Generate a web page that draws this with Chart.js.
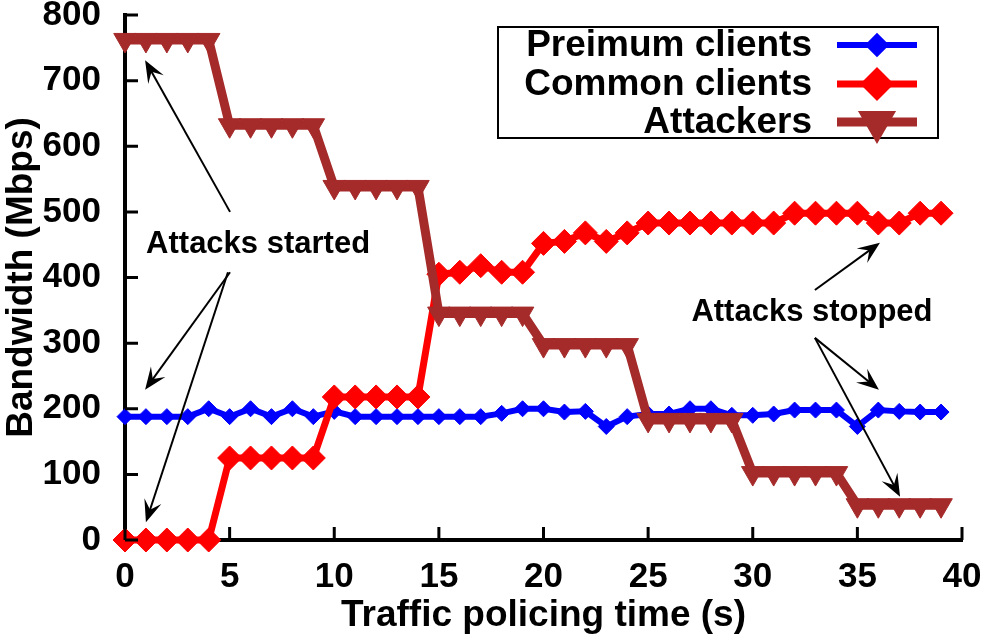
<!DOCTYPE html>
<html>
<head>
<meta charset="utf-8">
<title>Bandwidth vs traffic policing time</title>
<script src="https://cdn.jsdelivr.net/npm/chart.js@4.4.1/dist/chart.umd.min.js"></script>
<style>
  html, body { margin: 0; padding: 0; background: #fff; }
  #wrap { width: 988px; height: 638px; }
</style>
</head>
<body>
<div id="wrap"><canvas id="my-chart" width="988" height="638"></canvas></div>
<script>
'use strict';

// Data
let times = [0, 1, 2, 3, 4, 5, 6, 7, 8, 9, 10, 11, 12, 13, 14, 15, 16, 17, 18, 19,
  20, 21, 22, 23, 24, 25, 26, 27, 28, 29, 30, 31, 32, 33, 34, 35, 36, 37, 38, 39];

let premiumClients = [188, 188, 188, 188, 200, 188, 200, 188, 200, 188,
  196, 188, 188, 188, 188, 188, 188, 188, 193, 200,
  200, 195, 196, 173, 188, 192, 192, 200, 200, 190,
  190, 192, 198, 198, 198, 173, 198, 196, 195, 195];

let commonClients = [0, 0, 0, 0, 0, 125, 125, 125, 125, 125,
  218, 218, 218, 218, 218, 405, 408, 418, 408, 408,
  452, 455, 468, 455, 468, 483, 483, 483, 483, 483,
  483, 483, 498, 498, 498, 498, 483, 483, 498, 498];

let attackers = [762, 762, 762, 762, 762, 632, 632, 632, 632, 632,
  538, 538, 538, 538, 538, 345, 345, 345, 345, 345,
  297, 297, 297, 297, 297, 183, 183, 183, 183, 183,
  102, 102, 102, 102, 102, 53, 53, 53, 53, 53];

let xTicks = [0, 5, 10, 15, 20, 25, 30, 35, 40];
let yTicks = [0, 100, 200, 300, 400, 500, 600, 700, 800];

// annotation labels and arrows, in data units
let notes = [
  { text: 'Attacks started', x: 6.36, y: 450 },
  { text: 'Attacks stopped', x: 32.83, y: 347 }
];
let arrows = [
  [5.02, 500, 0.96, 731],
  [5.02, 408, 0.96, 229],
  [4.92, 408, 1.0, 27],
  [32.97, 381, 36.08, 453],
  [32.97, 308, 36.03, 229],
  [32.97, 308, 37.04, 66]
];

function toPoints(vals) {
  let pts = [];
  for (let i = 0; i < times.length; i++) {
    pts.push({ x: times[i], y: vals[i] });
  }
  return pts;
}

let font = 'Liberation Sans, Arial, Helvetica, sans-serif';

// Plugins

// gnuplot style ticks pointing into the plot
let innerTicks = {
  id: 'innerTicks',
  afterDraw(chart) {
    let ctx = chart.ctx;
    let area = chart.chartArea;
    let xs = chart.scales.x;
    let ys = chart.scales.y;
    ctx.save();
    ctx.strokeStyle = '#000';
    ctx.lineWidth = 3;
    ctx.beginPath();
    for (let i = 0; i < yTicks.length; i++) {
      let py = ys.getPixelForValue(yTicks[i]);
      ctx.moveTo(area.left, py);
      ctx.lineTo(area.left + 13, py);
    }
    for (let i = 0; i < xTicks.length; i++) {
      let px = xs.getPixelForValue(xTicks[i]);
      ctx.moveTo(px, area.bottom);
      ctx.lineTo(px, area.bottom - 13);
    }
    ctx.stroke();
    ctx.restore();
  }
};

function drawArrow(ctx, x1, y1, x2, y2) {
  let ang = Math.atan2(y2 - y1, x2 - x1);
  let len = 24;
  let spread = 0.38;
  ctx.beginPath();
  ctx.moveTo(x1, y1);
  ctx.lineTo(x2 - Math.cos(ang) * 10, y2 - Math.sin(ang) * 10);
  ctx.stroke();
  ctx.beginPath();
  ctx.moveTo(x2, y2);
  ctx.lineTo(x2 - Math.cos(ang - spread) * len, y2 - Math.sin(ang - spread) * len);
  ctx.lineTo(x2 - Math.cos(ang) * len * 0.55, y2 - Math.sin(ang) * len * 0.55);
  ctx.lineTo(x2 - Math.cos(ang + spread) * len, y2 - Math.sin(ang + spread) * len);
  ctx.closePath();
  ctx.fill();
}

let notesPlugin = {
  id: 'notesPlugin',
  afterDatasetsDraw(chart) {
    let ctx = chart.ctx;
    let xs = chart.scales.x;
    let ys = chart.scales.y;
    ctx.save();
    ctx.fillStyle = '#000';
    ctx.strokeStyle = '#000';
    ctx.lineWidth = 2;
    for (let i = 0; i < arrows.length; i++) {
      let a = arrows[i];
      drawArrow(ctx, xs.getPixelForValue(a[0]), ys.getPixelForValue(a[1]),
        xs.getPixelForValue(a[2]), ys.getPixelForValue(a[3]));
    }
    ctx.font = 'bold 31px ' + font;
    ctx.textAlign = 'center';
    ctx.textBaseline = 'middle';
    for (let i = 0; i < notes.length; i++) {
      ctx.fillText(notes[i].text, xs.getPixelForValue(notes[i].x), ys.getPixelForValue(notes[i].y));
    }
    ctx.restore();
  }
};

// boxed legend, text right aligned with the sample on the right
let boxLegend = {
  id: 'boxLegend',
  afterDraw(chart) {
    let ctx = chart.ctx;
    let left = 498, top = 27, w = 440, h = 111;
    let rows = [45, 84, 122];
    ctx.save();
    ctx.fillStyle = '#fff';
    ctx.fillRect(left, top, w, h);
    ctx.strokeStyle = '#000';
    ctx.lineWidth = 2;
    ctx.strokeRect(left, top, w, h);
    ctx.font = 'bold 37px ' + font;
    ctx.textAlign = 'right';
    ctx.textBaseline = 'middle';
    let sets = chart.data.datasets;
    for (let i = 0; i < sets.length; i++) {
      let ds = sets[i];
      let y = rows[i];
      ctx.fillStyle = '#000';
      ctx.fillText(ds.label, 812, y + 1);
      ctx.strokeStyle = ds.borderColor;
      ctx.lineWidth = ds.borderWidth;
      ctx.beginPath();
      ctx.moveTo(837, y);
      ctx.lineTo(917, y);
      ctx.stroke();
      ctx.fillStyle = ds.pointBackgroundColor;
      ctx.strokeStyle = ds.pointBackgroundColor;
      Chart.helpers.drawPoint(ctx, {
        pointStyle: ds.pointStyle,
        radius: ds.pointRadius,
        rotation: ds.pointRotation || 0,
        borderWidth: 1
      }, 877, y);
    }
    ctx.restore();
  }
};

// Chart Stuff

let canvasElem = document.getElementById('my-chart');

let myObj = {
  type: 'line',
  data: {
    datasets: [{
      label: 'Preimum clients',
      data: toPoints(premiumClients),
      borderColor: '#0000ff',
      pointBackgroundColor: '#0000ff',
      pointBorderColor: '#0000ff',
      borderWidth: 6,
      pointStyle: 'rectRot',
      pointRadius: 8,
      order: 3
    },
    {
      label: 'Common clients',
      data: toPoints(commonClients),
      borderColor: '#ff0000',
      pointBackgroundColor: '#ff0000',
      pointBorderColor: '#ff0000',
      borderWidth: 7,
      pointStyle: 'rectRot',
      pointRadius: 12,
      order: 2
    },
    {
      label: 'Attackers',
      data: toPoints(attackers),
      borderColor: '#a52a2a',
      pointBackgroundColor: '#a52a2a',
      pointBorderColor: '#a52a2a',
      borderWidth: 9,
      pointStyle: 'triangle',
      pointRotation: 180,
      pointRadius: 13,
      order: 1
    }]
  },
  options: {
    responsive: false,
    animation: false,
    clip: false,
    layout: {
      padding: { left: 0, right: 26, top: 15, bottom: 0 }
    },
    elements: {
      line: { tension: 0, fill: false },
      point: { pointBorderWidth: 1 }
    },
    plugins: {
      legend: { display: false },
      tooltip: { enabled: false }
    },
    scales: {
      x: {
        type: 'linear',
        min: 0,
        max: 40,
        afterFit(scale) {
          scale.height = 98;
          scale.paddingLeft = 0;
          scale.paddingRight = 0;
        },
        afterBuildTicks(scale) { scale.ticks = xTicks.map(v => ({ value: v })); },
        grid: { display: false, drawTicks: false },
        border: { display: true, color: '#000', width: 4 },
        ticks: {
          color: '#000',
          padding: 16,
          maxRotation: 0,
          font: { family: font, size: 35, weight: 'bold' }
        },
        title: {
          display: true,
          text: 'Traffic policing time (s)',
          color: '#000',
          padding: { top: 0, bottom: 0 },
          font: { family: font, size: 37, weight: 'bold' }
        }
      },
      y: {
        min: 0,
        max: 800,
        afterFit(scale) {
          scale.width = 125;
          scale.paddingTop = 0;
          scale.paddingBottom = 0;
        },
        afterBuildTicks(scale) { scale.ticks = yTicks.map(v => ({ value: v })); },
        grid: { display: false, drawTicks: false },
        border: { display: true, color: '#000', width: 4 },
        ticks: {
          color: '#000',
          padding: 24,
          font: { family: font, size: 35, weight: 'bold' }
        },
        title: {
          display: true,
          text: 'Bandwidth (Mbps)',
          color: '#000',
          padding: { top: 0, bottom: 0 },
          font: { family: font, size: 37, weight: 'bold' }
        }
      }
    }
  },
  plugins: [innerTicks, notesPlugin, boxLegend]
};

new Chart(canvasElem, myObj);
</script>
</body>
</html>
